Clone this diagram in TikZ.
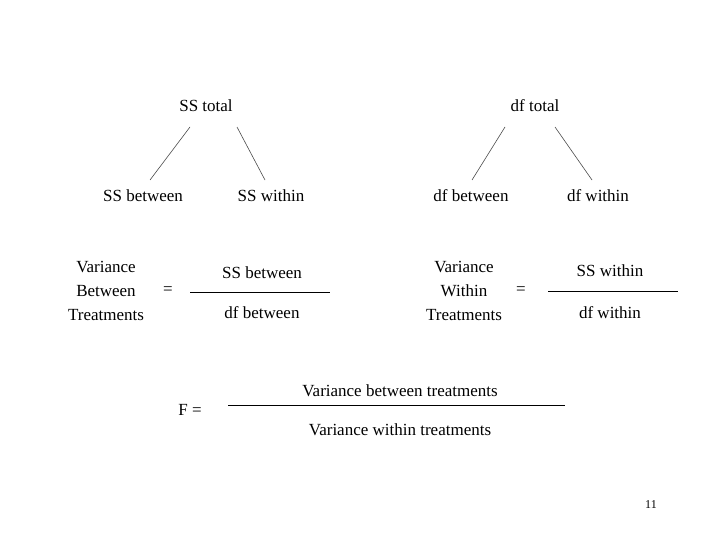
\documentclass[tikz,border=0pt]{standalone}
\usepackage{fontspec}
\setmainfont{Liberation Serif}
\begin{document}
\begin{tikzpicture}[x=1pt,y=-1pt,
  t/.style={inner sep=0pt,font=\fontsize{17}{24}\selectfont,align=center},
  ln/.style={draw=black!70,line width=0.6pt}]
\useasboundingbox[fill=white] (0,0) rectangle (720,540);
\node[t] (sst) at (206,106) {SS total};
\node[t] (dft) at (535,106) {df total};
\node[t] (ssb) at (143,196) {SS between};
\node[t] (ssw) at (271,196) {SS within};
\node[t] (dfb) at (471,196) {df between};
\node[t] (dfw) at (598,196) {df within};
\coordinate (a1) at (190,127); \coordinate (a2) at (150,180);
\coordinate (b1) at (237,127); \coordinate (b2) at (265,180);
\coordinate (c1) at (505,127); \coordinate (c2) at (472,180);
\coordinate (d1) at (555,127); \coordinate (d2) at (592,180);
\draw[ln] (a1)--(a2); \draw[ln] (b1)--(b2);
\draw[ln] (c1)--(c2); \draw[ln] (d1)--(d2);
\node[t,font=\fontsize{17}{24}\selectfont] (vb) at (106,291) {Variance\\Between\\Treatments};
\node[t] (eq1) at (168,291) {=};
\node[t] (n1) at (262,273) {SS between};
\node[t] (d1n) at (262,313) {df between};
\coordinate (l1a) at (190,292); \coordinate (l1b) at (330,292);
\draw[line width=0.8pt] (l1a)--(l1b);
\node[t] (vw) at (464,291) {Variance\\Within\\Treatments};
\node[t] (eq2) at (521,291) {=};
\node[t] (n2) at (610,271) {SS within};
\node[t] (d2n) at (610,313) {df within};
\coordinate (l2a) at (548,291); \coordinate (l2b) at (678,291);
\draw[line width=0.8pt] (l2a)--(l2b);
\node[t] (F) at (190,410) {F =};
\node[t] (vbt) at (400,391) {Variance between treatments};
\node[t] (vwt) at (400,430) {Variance within treatments};
\coordinate (l3a) at (228,405); \coordinate (l3b) at (565,405);
\draw[line width=0.8pt] (l3a)--(l3b);
\node[t,font=\fontsize{12}{14}\selectfont] (pg) at (651,505) {11};
\end{tikzpicture}
\end{document}
